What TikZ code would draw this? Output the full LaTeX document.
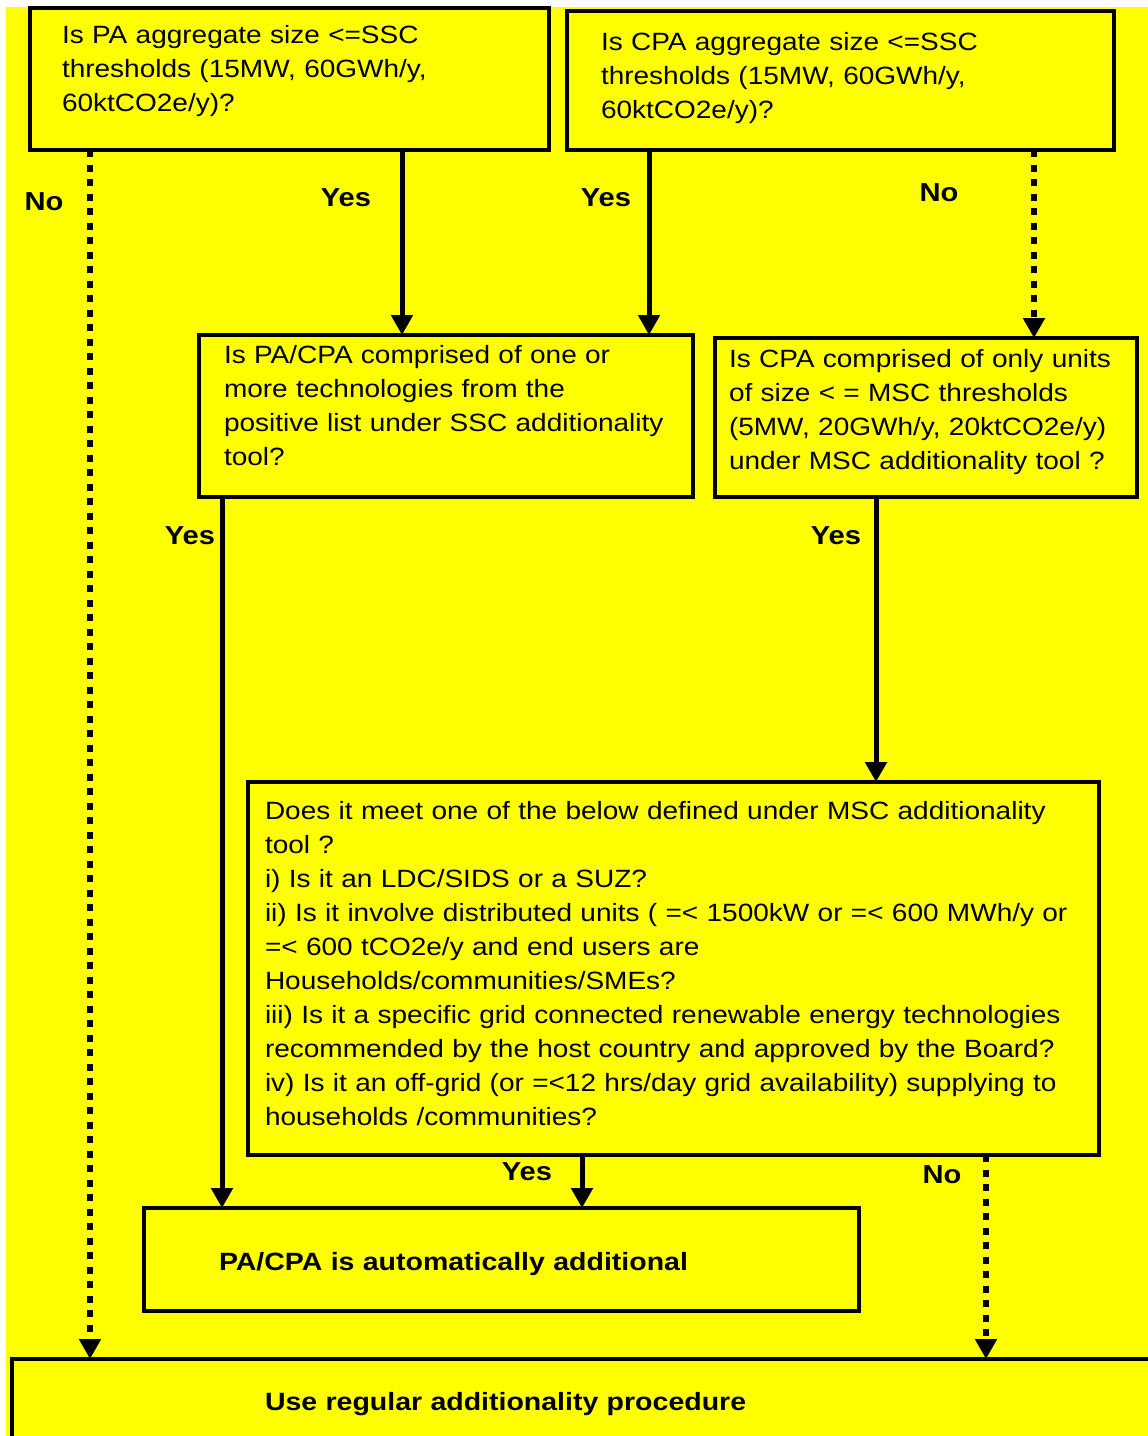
\documentclass[tikz,border=0pt]{standalone}
\usepackage{fontspec}
\newfontfamily\flowfont{Liberation Sans}[FakeStretch=1.12]
\newfontfamily\flowboldfont{Liberation Sans}[FakeStretch=1.14]
\usetikzlibrary{arrows.meta, calc}
\definecolor{flowyellow}{RGB}{255,255,0}

\begin{document}
\begin{tikzpicture}[x=1pt, y=-1pt, >={Triangle[width=21pt,length=20pt]},
    qbox/.style={draw, line width=4pt, anchor=north west, outer sep=0pt, inner ysep=0pt,
        align=left, font=\flowfont\fontsize{25}{34}\selectfont},
    endbox/.style={qbox, font=\flowboldfont\bfseries\fontsize{25}{34}\selectfont},
    yesline/.style={->, line width=5pt},
    noline/.style={->, line width=6pt, dash pattern=on 7pt off 7.5pt},
    lbl/.style={font=\flowfont\bfseries\fontsize{26}{30}\selectfont}]
    \useasboundingbox (0,0) rectangle (1148,1436);
    \clip (0,0) rectangle (1148,1436);
    \fill[flowyellow] (6,7) rectangle (1148,1436);

    \node[qbox, inner xsep=32pt, text width=455pt, text height=35pt, text depth=107pt] (A) at (30,8)
        {Is PA aggregate size <=SSC\\ thresholds (15MW, 60GWh/y,\\ 60ktCO2e/y)?};
    \node[qbox, inner xsep=34pt, text width=479pt, text height=39pt, text depth=100pt] (B) at (567,11)
        {Is CPA aggregate size <=SSC\\ thresholds (15MW, 60GWh/y,\\ 60ktCO2e/y)?};
    \node[qbox, inner xsep=25pt, text width=444pt, text height=28pt, text depth=134pt] (C) at (199,335)
        {Is PA/CPA comprised of one or\\ more technologies from the\\ positive list under SSC additionality\\ tool?};
    \node[qbox, inner xsep=14pt, text width=394pt, text height=29pt, text depth=130pt] (D) at (715,338)
        {Is CPA comprised of only units\\ of size < = MSC thresholds\\ (5MW, 20GWh/y, 20ktCO2e/y)\\ under MSC additionality tool ?};
    \node[qbox, inner xsep=17pt, text width=817pt, text height=37pt, text depth=336pt] (E) at (248,782)
        {Does it meet one of the below defined under MSC additionality\\ tool ?\\
         i) Is it an LDC/SIDS or a SUZ?\\
         ii) Is it involve distributed units ( =< 1500kW or =< 600 MWh/y or\\
         =< 600 tCO2e/y and end users are\\ Households/communities/SMEs?\\
         iii) Is it a specific grid connected renewable energy technologies\\
         recommended by the host country and approved by the Board?\\
         iv) Is it an off-grid (or =<12 hrs/day grid availability) supplying to\\
         households /communities?};
    \node[endbox, inner xsep=75pt, text width=565pt, text height=62pt, text depth=41pt] (F) at (144,1208)
        {PA/CPA is automatically additional};
    \node[endbox, inner xsep=253pt, text width=654pt, text height=51pt, text depth=49pt] (G) at (12,1359)
        {Use regular additionality procedure};

    \coordinate (noA) at ($(A.south west)+(60,0)$);
    \coordinate (yesA) at ($(A.south west)+(372,0)$);
    \coordinate (yesB) at ($(B.south west)+(82,0)$);
    \coordinate (noB) at ($(B.south west)+(467,0)$);
    \coordinate (yesC) at ($(C.south west)+(23,0)$);
    \coordinate (yesD) at ($(D.south west)+(161,0)$);
    \coordinate (yesE) at ($(E.south west)+(334,0)$);
    \coordinate (noE) at ($(E.south west)+(738,0)$);

    \draw[noline] (noA) -- (noA |- G.north);
    \draw[yesline] (yesA) -- (yesA |- C.north);
    \draw[yesline] (yesB) -- (yesB |- C.north);
    \draw[noline] (noB) -- (noB |- D.north);
    \draw[yesline] (yesC) -- (yesC |- F.north);
    \draw[yesline] (yesD) -- (yesD |- E.north);
    \draw[yesline] (yesE) -- (yesE |- F.north);
    \draw[noline] (noE) -- (noE |- G.north);

    \node[lbl] (noAlbl) at (44,202) {No};
    \node[lbl] (yesAlbl) at (346,198) {Yes};
    \node[lbl] (yesBlbl) at (606,198) {Yes};
    \node[lbl] (noBlbl) at (939,193) {No};
    \node[lbl] (yesClbl) at (190,536) {Yes};
    \node[lbl] (yesDlbl) at (836,536) {Yes};
    \node[lbl] (yesElbl) at (527,1172) {Yes};
    \node[lbl] (noElbl) at (942,1175) {No};
\end{tikzpicture}
\end{document}
